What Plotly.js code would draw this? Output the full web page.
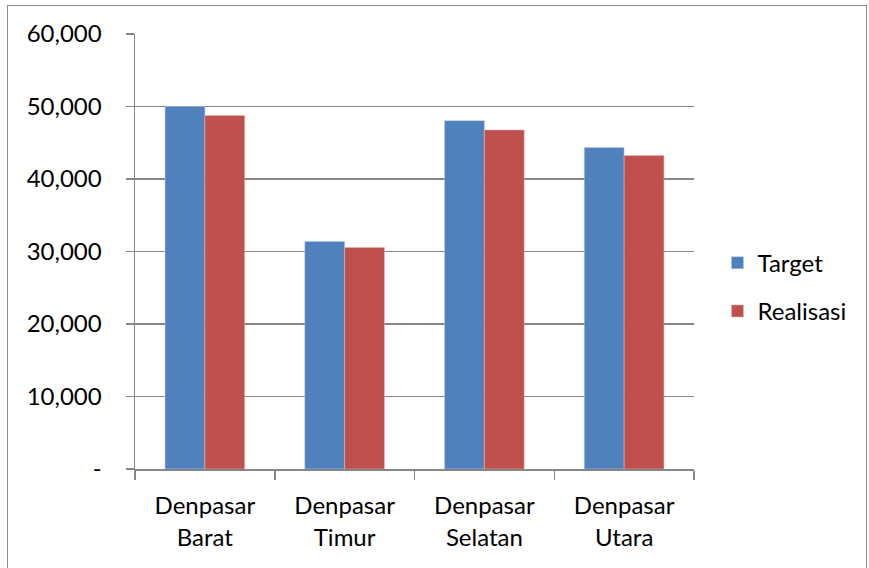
<!DOCTYPE html>
<html>
<head>
<meta charset="utf-8">
<script src="https://cdn.plot.ly/plotly-3.0.1.min.js"></script>
<style>
  html, body { margin: 0; padding: 0; background: #fff; }
  #chart { width: 869px; height: 568px; position: relative; }
  #frame { position: absolute; left: 7px; top: 5px; width: 858px; height: 580px; border: 1px solid #8c8c8c; pointer-events: none; }
</style>
</head>
<body>
<div id="chart"></div>
<div id="frame"></div>
<script>
const categories = ["Denpasar<br>Barat", "Denpasar<br>Timur", "Denpasar<br>Selatan", "Denpasar<br>Utara"];
const targetValues = [50000, 31380, 48050, 44330];
const realisasiValues = [48760, 30550, 46760, 43230];
const yTickValues = [0, 10000, 20000, 30000, 40000, 50000, 60000];
const yTickLabels = ["-", "10,000", "20,000", "30,000", "40,000", "50,000", "60,000"];

const font = "Lato, 'Open Sans', sans-serif";

const traces = [
  { type: "bar", name: "Target", x: categories, y: targetValues,
    marker: { color: "#4F81BD", line: { color: "#b9cde5", width: 0.5 } },
    legendgroup: "a", hoverinfo: "y" },
  { type: "bar", name: "Realisasi", x: categories, y: realisasiValues,
    marker: { color: "#C0504D", line: { color: "#e6b9b8", width: 0.5 } },
    legendgroup: "b", hoverinfo: "y" }
];

const layout = {
  width: 869, height: 568,
  margin: { l: 135, r: 175, t: 34, b: 99 },
  paper_bgcolor: "#fff", plot_bgcolor: "#fff",
  font: { family: font, size: 24, color: "#000" },
  barmode: "group",
  bargap: 0.43,
  bargroupgap: 0,
  showlegend: true,
  legend: { x: 1.042, xanchor: "left", y: 0.525, yanchor: "top",
            font: { family: font, size: 24, color: "#000" },
            traceorder: "grouped", tracegroupgap: 14, itemwidth: 30 },
  xaxis: {
    type: "category",
    showline: true, linecolor: "#868686", linewidth: 1.5,
    ticks: "outside", tickson: "boundaries", ticklen: 9, tickcolor: "#868686", tickwidth: 1.5,
    ticklabelstandoff: 15,
    showgrid: false, zeroline: false,
    tickfont: { family: font, size: 24, color: "#000" }
  },
  yaxis: {
    range: [0, 60000],
    tickvals: yTickValues, ticktext: yTickLabels,
    showline: true, linecolor: "#868686", linewidth: 1.5,
    ticks: "outside", ticklen: 8, tickcolor: "#868686", tickwidth: 1.5,
    ticklabelstandoff: 19,
    showgrid: true, gridcolor: "#868686", gridwidth: 1.5,
    zeroline: false,
    tickfont: { family: font, size: 24, color: "#000" }
  }
};

Plotly.newPlot("chart", traces, layout, { displayModeBar: false, staticPlot: true });
</script>
</body>
</html>
